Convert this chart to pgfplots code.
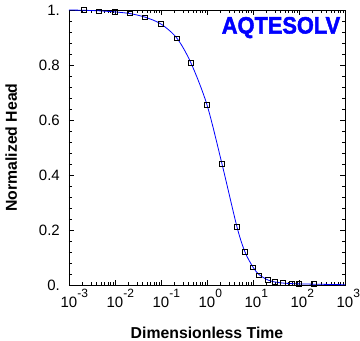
\documentclass[border=0pt]{standalone}
\usepackage{fontspec}
\setmainfont{Liberation Sans}
\newfontfamily\logofont[BoldFeatures={FakeBold=2}]{Liberation Sans}
\usepackage{graphicx}
\usepackage{pgfplots}
\pgfplotsset{compat=1.18}
\newcommand{\ex}[1]{\rlap{\raisebox{10pt}{\fontsize{12}{12}\selectfont #1}}}
\begin{document}
\begin{tikzpicture}[x=1pt,y=1pt]
\useasboundingbox (-69,-56) rectangle (291,285);
\begin{axis}[
  at={(0,0)}, anchor=south west,
  scale only axis, width=276pt, height=275pt,
  xmode=log, xmin=1e-3, xmax=1e3, ymin=0, ymax=1,
  clip=false,
  xtick={1e-3,1e-2,1e-1,1,1e1,1e2,1e3},
  xticklabels={10\ex{-3},10\ex{-2},10\ex{-1},10\ex{0},10\ex{1},10\ex{2},10\ex{3}},
  ytick={0,0.2,0.4,0.6,0.8,1},
  yticklabels={0.,0.2,0.4,0.6,0.8,1.},
  minor y tick num=4,
  tick align=inside,
  major tick length=5pt, minor tick length=3pt,
  every tick/.style={black, line width=0.7pt},
  axis line style={line width=0.9pt},
  tick label style={font=\fontsize{15}{15}\selectfont},
  xticklabel style={anchor=base, yshift=-22pt, inner sep=0pt},
  yticklabel style={anchor=east, xshift=-9pt, inner sep=0pt},
  label style={font=\bfseries\fontsize{15.8}{16}\selectfont},
  xlabel={Dimensionless Time},
  ylabel={Normalized Head},
  x label style={at={(rel axis cs:0.5,-0.193)}, anchor=base},
  y label style={at={(rel axis cs:-0.1884,0.5)}, anchor=base},
]
\addplot[blue, line width=0.8pt, smooth, tension=0.5] coordinates {
(0.001,1.000) (0.00212,0.999) (0.00449,0.997) (0.0100,0.993) (0.0212,0.987)
(0.0449,0.974) (0.100,0.949) (0.223,0.897) (0.449,0.807) (1.00,0.655)
(2.12,0.440) (4.49,0.211) (6.70,0.120) (10.0,0.065) (13.5,0.038)
(21.2,0.018) (30.0,0.011) (44.9,0.007) (70.5,0.005) (100,0.004)
(212,0.003) (1000,0.001)
};
\addplot[only marks, mark=square, mark size=2.3pt, black, mark options={line width=0.6pt, fill=none}] coordinates {
(0.00212,1.000) (0.00449,0.996) (0.0100,0.993) (0.0212,0.988) (0.0449,0.974)
(0.100,0.949) (0.223,0.897) (0.449,0.807) (1.00,0.655) (2.12,0.440)
(4.49,0.211) (6.70,0.120) (10.0,0.065) (13.5,0.036) (21.2,0.018)
(30.0,0.011) (44.9,0.007) (70.5,0.006) (100,0.004) (212,0.004)
};
\node[text=blue, anchor=center, inner sep=0pt] at (rel axis cs:0.768,0.936)
  {\logofont\bfseries\fontsize{23.7}{24}\selectfont\scalebox{0.92}[1]{AQTESOLV}};
\end{axis}
\end{tikzpicture}
\end{document}
